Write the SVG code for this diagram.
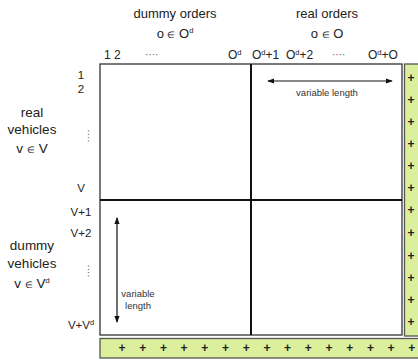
<svg xmlns="http://www.w3.org/2000/svg" width="418" height="362" viewBox="0 0 418 362">
  <style>
    text { font-family: "Liberation Sans", Arial, sans-serif; fill: #222; }
    .head { font-size: 13px; text-anchor: middle; }
    .idx { font-size: 12px; }
    .row { font-size: 11.5px; text-anchor: middle; }
    .side { font-size: 13.5px; text-anchor: middle; }
    .small { font-size: 9.5px; text-anchor: middle; fill: #333; }
    .sup { font-size: 7.5px; }
    .dots { font-size: 10px; fill: #555; }
    .frame { fill: #fff; stroke: #333; stroke-width: 1.3; }
    .div { stroke: #111; stroke-width: 2; }
    .bar { fill: #dcef9c; stroke: #555; stroke-width: 1.3; }
    .plus { font-size: 12px; font-weight: bold; text-anchor: middle; fill: #111; }
    .arrow { stroke: #111; stroke-width: 1.2; fill: none; }
  </style>
  <defs>
    <marker id="ah" viewBox="0 0 8 8" refX="7" refY="4" markerWidth="6" markerHeight="6" orient="auto-start-reverse">
      <path d="M0,1 L8,4 L0,7 z" fill="#111"/>
    </marker>
  </defs>

  <!-- column headers -->
  <g id="dummy-orders">
    <text class="head" x="175" y="18">dummy orders</text>
    <text class="head" x="175" y="38">o <tspan font-size="9">∈</tspan> O<tspan class="sup" dy="-5">d</tspan></text>
  </g>
  <g id="real-orders">
    <text class="head" x="327" y="18">real orders</text>
    <text class="head" x="327" y="38">o <tspan font-size="9">∈</tspan> O</text>
  </g>

  <!-- column indices -->
  <g id="col-index">
    <text class="idx" x="104" y="59">1 2</text>
    <text class="dots" x="145" y="58">····</text>
    <text class="idx" x="228" y="59">O<tspan class="sup" dy="-4">d</tspan></text>
    <text class="idx" x="252" y="59">O<tspan class="sup" dy="-4">d</tspan><tspan dy="4">+1</tspan></text>
    <text class="idx" x="286" y="59">O<tspan class="sup" dy="-4">d</tspan><tspan dy="4">+2</tspan></text>
    <text class="dots" x="332" y="58">····</text>
    <text class="idx" x="368" y="59">O<tspan class="sup" dy="-4">d</tspan><tspan dy="4">+O</tspan></text>
  </g>

  <!-- row indices -->
  <g id="row-index">
    <text class="row" x="81" y="79">1</text>
    <text class="row" x="81" y="93">2</text>
    <text class="dots" x="81" y="132" text-anchor="middle" transform="rotate(90 81 136)">····</text>
    <text class="row" x="81" y="192">V</text>
    <text class="row" x="81" y="216">V+1</text>
    <text class="row" x="81" y="237">V+2</text>
    <text class="dots" x="81" y="267" text-anchor="middle" transform="rotate(90 81 271)">····</text>
    <text class="row" x="81" y="329">V+V<tspan class="sup" dy="-4">d</tspan></text>
  </g>

  <!-- row group labels -->
  <g id="real-vehicles">
    <text class="side" x="32" y="117">real</text>
    <text class="side" x="32" y="134">vehicles</text>
    <text class="side" x="32" y="153">v <tspan font-size="9">∈</tspan> V</text>
  </g>
  <g id="dummy-vehicles">
    <text class="side" x="32" y="250">dummy</text>
    <text class="side" x="32" y="268">vehicles</text>
    <text class="side" x="32" y="288">v <tspan font-size="9">∈</tspan> V<tspan class="sup" dy="-5">d</tspan></text>
  </g>

  <!-- matrix -->
  <g id="matrix">
    <rect class="frame" x="100" y="64" width="302" height="271"/>
    <line class="div" x1="251" y1="64" x2="251" y2="335"/>
    <line class="div" x1="100" y1="200" x2="402" y2="200"/>
  </g>

  <!-- side bars of extra entries -->
  <g id="right-bar">
    <rect class="bar" x="404.5" y="64" width="20" height="272"/>
    <g class="plus">
      <text x="411" y="82">+</text><text x="411" y="104">+</text><text x="411" y="126">+</text>
      <text x="411" y="148">+</text><text x="411" y="170">+</text><text x="411" y="192">+</text>
      <text x="411" y="214">+</text><text x="411" y="237">+</text><text x="411" y="260">+</text>
      <text x="411" y="282">+</text><text x="411" y="304">+</text><text x="411" y="326">+</text>
    </g>
  </g>
  <g id="bottom-bar">
    <rect class="bar" x="100" y="338.5" width="325" height="19.5"/>
    <g class="plus">
      <text x="122" y="352">+</text><text x="142.7" y="352">+</text><text x="163.4" y="352">+</text>
      <text x="184.1" y="352">+</text><text x="204.8" y="352">+</text><text x="225.5" y="352">+</text>
      <text x="246.2" y="352">+</text><text x="266.9" y="352">+</text><text x="287.6" y="352">+</text>
      <text x="308.3" y="352">+</text><text x="329" y="352">+</text><text x="349.7" y="352">+</text>
      <text x="370.4" y="352">+</text><text x="391.1" y="352">+</text><text x="411.8" y="352">+</text>
    </g>
  </g>

  <!-- length indicators -->
  <g id="connectors">
    <line class="arrow" x1="268" y1="81" x2="392" y2="81" marker-start="url(#ah)" marker-end="url(#ah)"/>
    <line class="arrow" x1="117" y1="218" x2="117" y2="322" marker-start="url(#ah)" marker-end="url(#ah)"/>
  </g>
  <g id="h-length">
    <text class="small" x="327" y="96">variable length</text>
  </g>
  <g id="v-length">
    <text class="small" x="138" y="297">variable</text>
    <text class="small" x="138" y="309">length</text>
  </g>
</svg>
